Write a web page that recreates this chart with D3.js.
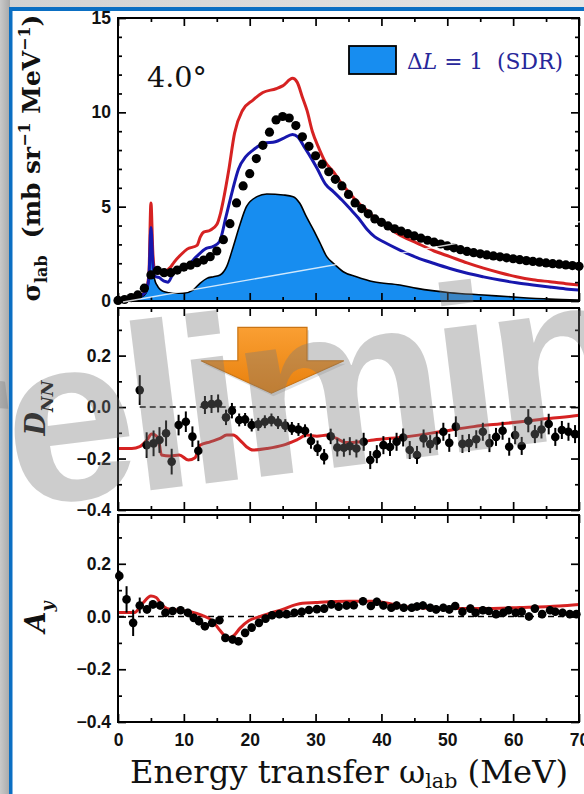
<!DOCTYPE html>
<html>
<head>
<meta charset="utf-8">
<script src="https://cdn.jsdelivr.net/npm/d3@7"></script>
<style>
  html, body { margin: 0; padding: 0; background: #fff; }
  svg { display: block; }
  text { white-space: pre; }
</style>
</head>
<body>
<svg id="chart" width="584" height="794"></svg>
<script>
// ---------- cross section, 4.0 deg ----------
const sigmaExpE = [0,1,2,3,4,5,6,7,8,9,10,11,12,13,14,15,16,17,18,19,20,21,22,23,24,25,26,27,28,29,30,31,32,33,34,35,36,37,38,39,40,41,42,43,44,45,46,47,48,49,50,51,52,53,54,55,56,57,58,59,60,61,62,63,64,65,66,67,68,69,70];
const sigmaExp  = [0.03,0.08,0.18,0.32,0.68,1.38,1.62,1.5,1.5,1.64,1.8,1.9,2.03,2.17,2.35,2.65,3.25,4.1,5.2,6.1,6.75,7.55,8.25,8.95,9.6,9.78,9.7,9.3,8.7,8.2,7.7,7.25,6.85,6.45,6.1,5.65,5.2,4.9,4.62,4.35,4.17,3.98,3.83,3.7,3.57,3.45,3.33,3.22,3.12,3.02,2.92,2.82,2.72,2.63,2.56,2.5,2.44,2.39,2.34,2.29,2.24,2.19,2.14,2.1,2.06,2.02,1.98,1.95,1.91,1.88,1.84];

const sigmaRedE = [0,2,3.5,4.3,4.7,5.0,5.3,5.6,6,7,8,8.5,9.5,10.5,12,12.5,13,14,15,15.6,16,16.8,17.7,18.9,20.5,22,24,25,26.5,27.2,28,28.7,29.5,30.5,31.5,32.7,34,35.2,36.5,37.8,39,40.3,42.5,45.4,48,50.4,53,55.5,58,60.5,63,65.6,68,70];
const sigmaRed  = [0.05,0.12,0.3,0.6,1.5,5.2,2.5,1.6,1.5,1.55,1.8,2.05,2.44,2.75,2.95,3.4,3.65,3.75,4.05,4.7,5.35,6.9,8.9,10.1,10.65,11.05,11.25,11.4,11.8,11.6,10.8,10.1,9.0,8.1,7.35,6.85,6.2,5.7,5.2,4.8,4.4,4.1,3.55,3.07,2.65,2.35,2.02,1.74,1.5,1.29,1.13,1.02,0.92,0.85];

const sigmaBlueE = [0,2,3.5,4.3,4.7,5.0,5.3,5.6,6.2,7,7.6,8.3,9,10.4,11.9,13.4,14.4,15.4,16.4,17.4,18.3,19.4,20.5,22.2,23.9,25.1,26.5,27.3,28.4,29.3,30.2,31.5,32.7,34,35.2,36.5,37.8,39,40.3,42.8,45.4,47.9,50.4,52.9,55.5,58,60.5,63,65.5,68,70];
const sigmaBlue  = [0.05,0.12,0.28,0.55,1.3,3.9,2.0,1.3,1.25,1.05,1.0,1.4,1.64,1.82,2.35,2.79,2.88,3.14,4.47,5.88,7.0,7.65,8.0,8.36,8.44,8.62,8.83,8.7,8.1,7.6,7.05,6.2,5.8,5.35,4.9,4.4,3.8,3.4,3.14,2.7,2.3,2.0,1.72,1.48,1.28,1.11,0.97,0.85,0.74,0.64,0.58];

const sdrE = [0,2,3.5,4.3,4.7,5.0,5.3,5.6,5.9,6.9,8.4,9.9,11.4,12.45,13.5,14.5,15.5,16.5,17.5,18.5,19.5,21.1,22.6,25.1,26.6,27.6,28.6,29.7,30.7,31.7,32.7,34.2,36.2,38.8,42.8,45.4,50.4,55.5,60.5,65.6,70];
const sdrV = [0.03,0.08,0.2,0.45,1.2,3.7,1.8,1.1,0.85,0.5,0.41,0.41,0.58,0.94,1.2,1.29,1.38,1.82,2.88,4.03,5.0,5.53,5.67,5.62,5.53,5.18,4.47,3.76,3.06,2.35,2.0,1.55,1.29,1.02,0.85,0.67,0.44,0.32,0.2,0.1,0.05];

// ---------- D_NN ----------
const dnnE = [3.3,4.35,5.4,6.3,7.3,8.15,9.2,10.3,11.3,12.2,13.2,14.2,15.2,16.4,17.3,18.4,19.3,20.3,21.3,22.3,23.3,24.3,25.4,26.4,27.4,28.4,29.3,30.3,31.3,32.3,33.3,34.3,35.2,36.2,37.3,38.3,39.3,40.3,41.3,42.3,43.3,44.3,45.4,46.4,47.4,48.4,49.4,50.3,51.3,52.3,53.3,54.4,55.4,56.4,57.4,58.4,59.4,60.3,61.3,62.3,63.3,64.3,65.4,66.4,67.4,68.4,69.4];
const dnnV = [0.066,-0.148,-0.141,-0.128,-0.102,-0.212,-0.07,-0.057,-0.115,-0.17,0.008,0.012,0.014,-0.04,-0.014,-0.05,-0.048,-0.07,-0.067,-0.057,-0.05,-0.06,-0.072,-0.083,-0.087,-0.092,-0.132,-0.16,-0.193,-0.114,-0.157,-0.158,-0.152,-0.161,-0.135,-0.206,-0.183,-0.148,-0.155,-0.135,-0.118,-0.167,-0.186,-0.122,-0.144,-0.131,-0.096,-0.139,-0.076,-0.143,-0.14,-0.125,-0.096,-0.14,-0.116,-0.092,-0.154,-0.109,-0.151,-0.053,-0.105,-0.087,-0.066,-0.116,-0.089,-0.096,-0.105];
const dnnErr = [0.058,0.05,0.05,0.05,0.05,0.05,0.04,0.04,0.04,0.04,0.035,0.035,0.035,0.03,0.03,0.025,0.025,0.025,0.025,0.025,0.025,0.025,0.025,0.025,0.025,0.025,0.03,0.03,0.03,0.03,0.035,0.035,0.035,0.035,0.035,0.035,0.035,0.035,0.035,0.035,0.035,0.035,0.035,0.035,0.035,0.035,0.035,0.035,0.04,0.035,0.035,0.035,0.035,0.035,0.035,0.035,0.035,0.035,0.035,0.045,0.035,0.035,0.04,0.035,0.035,0.035,0.035];
const dnnCalcE = [0,2.1,3.3,4.4,5.1,6.1,6.6,7.9,9.3,10.7,11.7,12.45,14,15.5,16.5,17.5,18.5,19.5,20.5,22.6,25.1,27.1,28.7,30.2,31.8,33.2,34.6,36.5,38.8,43.8,48.9,54,59,64.1,69.1,70];
const dnnCalc  = [-0.161,-0.161,-0.154,-0.128,-0.105,-0.12,-0.186,-0.19,-0.186,-0.206,-0.197,-0.148,-0.135,-0.122,-0.109,-0.109,-0.128,-0.154,-0.167,-0.161,-0.148,-0.128,-0.109,-0.113,-0.109,-0.122,-0.138,-0.136,-0.128,-0.115,-0.096,-0.076,-0.063,-0.048,-0.035,-0.032];

// ---------- A_y ----------
const ayE = [0.2,1.3,2.3,3.3,4.4,5.3,6.4,7.2,8.3,9.5,10.6,11.5,12.3,13.2,14.3,15.4,16.3,17.4,18.3,19.3,20.3,21.4,22.4,23.4,24.5,25.6,26.8,27.9,29.0,30.2,31.3,32.4,33.5,34.7,35.8,37.2,38.4,39.3,40.3,41.5,42.3,43.4,44.6,45.4,46.3,47.4,48.3,49.4,50.3,51.2,52.3,53.5,54.3,55.4,56.3,57.4,58.5,59.3,60.4,61.3,62.4,63.3,64.4,65.6,66.4,67.5,68.6,69.6];
const ayV = [0.154,0.065,-0.024,0.042,0.027,0.046,0.042,0.014,0.021,0.024,0.014,-0.005,-0.018,-0.037,-0.024,-0.014,-0.081,-0.087,-0.094,-0.062,-0.042,-0.024,-0.008,0.005,0.009,0.009,0.014,0.018,0.025,0.028,0.03,0.046,0.037,0.042,0.043,0.058,0.04,0.056,0.042,0.033,0.042,0.033,0.033,0.038,0.042,0.033,0.027,0.033,0.027,0.04,0.018,0.03,0.014,0.024,0.021,0.009,0.014,0.024,0.014,0.018,0.0,0.03,0.009,0.024,0.018,0.014,0.009,0.009];
const ayErr = [0.02,0.05,0.05,0.03,0.015,0.015,0.015,0.015,0.015,0.015,0.015,0.015,0.015,0.015,0.015,0.015,0.015,0.015,0.015,0.015,0.015,0.015,0.015,0.015,0.015,0.015,0.015,0.015,0.015,0.015,0.015,0.015,0.015,0.015,0.015,0.015,0.015,0.015,0.015,0.015,0.015,0.015,0.015,0.015,0.015,0.015,0.015,0.015,0.015,0.015,0.015,0.015,0.015,0.015,0.015,0.015,0.015,0.015,0.015,0.015,0.015,0.015,0.015,0.015,0.015,0.015,0.015,0.015];
const ayCalcE = [0,2.5,3.8,5.0,5.8,6.6,7.5,9,11,12.7,14.4,15.4,16.3,17,17.6,18.5,19.9,21.6,23,25,27,28,30,35,38.6,41.5,44,50,55,61,67,70];
const ayCalc  = [0.015,0.015,0.052,0.078,0.072,0.045,0.03,0.025,0.018,0.005,-0.018,-0.05,-0.075,-0.08,-0.072,-0.045,-0.015,0.0,0.012,0.027,0.045,0.05,0.053,0.058,0.058,0.048,0.036,0.03,0.03,0.034,0.04,0.046];

// ---------- ticks ----------
const xMajor = [0,10,20,30,40,50,60,70];
const xMinor = [5,15,25,35,45,55,65];
const sigMajor = [0,5,10,15];
const sigMinor = [1,2,3,4,6,7,8,9,11,12,13,14];
const polMajor = [-0.4,-0.2,0.0,0.2];
const polMinor = [-0.3,-0.1,0.1,0.3];

// ---------- colours ----------
const RED = '#d62222', BLUE = '#1717ad', SDR = '#178df0', LEGEND_TXT = '#27279a';

const W = 584, H = 794;
const svg = d3.select('#chart');
const defs = svg.append('defs');

// page backdrop
const lg = defs.append('linearGradient').attr('id', 'leftStrip').attr('x1', 0).attr('x2', 1).attr('y1', 0).attr('y2', 0);
lg.append('stop').attr('offset', 0).attr('stop-color', '#c9c9c9');
lg.append('stop').attr('offset', 1).attr('stop-color', '#a9a9a9');
const tg = defs.append('linearGradient').attr('id', 'topStrip').attr('x1', 0).attr('x2', 1).attr('y1', 0).attr('y2', 0);
tg.append('stop').attr('offset', 0).attr('stop-color', '#d2d2d2');
tg.append('stop').attr('offset', 1).attr('stop-color', '#e6e6e6');

svg.append('rect').attr('width', W).attr('height', H).attr('fill', 'url(#topStrip)');
svg.append('rect').attr('x', 0).attr('y', 0).attr('width', 10).attr('height', H).attr('fill', 'url(#leftStrip)');
svg.append('rect').attr('x', 12).attr('y', 11).attr('width', W - 12).attr('height', H - 11).attr('fill', '#fff');
svg.append('rect').attr('x', 9).attr('y', 7).attr('width', W - 9).attr('height', 4).attr('fill', '#0b6fc3');
svg.append('rect').attr('x', 9).attr('y', 7).attr('width', 3.5).attr('height', H - 7).attr('fill', '#0b6fc3');

// ---------- scales ----------
const x = d3.scaleLinear().domain([0, 70]).range([118, 579]);
const ySig = d3.scaleLinear().domain([0, 15]).range([301, 18]);
const yDnn = d3.scaleLinear().domain([-0.4, 0.385]).range([510, 308]);
const yAy  = d3.scaleLinear().domain([-0.4, 0.385]).range([722, 515]);

const TICK_FONT = "'Liberation Sans', Arial, sans-serif";
const SERIF = "'DejaVu Serif', serif";

function clipFor(id, y) {
  const [b, t] = y.range();
  defs.append('clipPath').attr('id', id).append('rect')
    .attr('x', x.range()[0]).attr('y', t).attr('width', x.range()[1] - x.range()[0]).attr('height', b - t);
  return `url(#${id})`;
}

function frame(g, y, yMajor, yMinor, yFmt, xLabels) {
  const [b, t] = y.range();
  const [l, r] = x.range();
  const add = (axis, tf) => {
    const a = g.append('g').attr('transform', tf).call(axis);
    a.select('.domain').remove();
    a.selectAll('.tick line').attr('stroke', '#000').attr('stroke-width', 1.7);
    a.selectAll('.tick text').attr('fill', '#111').attr('font-family', TICK_FONT)
      .attr('font-size', 17.5).attr('font-weight', 'bold');
    return a;
  };
  add(d3.axisLeft(y).tickValues(yMinor).tickSize(-4).tickFormat(''), `translate(${l},0)`);
  add(d3.axisLeft(y).tickValues(yMajor).tickSize(-8).tickPadding(7).tickFormat(yFmt), `translate(${l},0)`);
  add(d3.axisRight(y).tickValues(yMinor).tickSize(-4).tickFormat(''), `translate(${r},0)`);
  add(d3.axisRight(y).tickValues(yMajor).tickSize(-8).tickFormat(''), `translate(${r},0)`);
  add(d3.axisTop(x).tickValues(xMinor).tickSize(-4).tickFormat(''), `translate(0,${t})`);
  add(d3.axisTop(x).tickValues(xMajor).tickSize(-8).tickFormat(''), `translate(0,${t})`);
  add(d3.axisBottom(x).tickValues(xMinor).tickSize(-4).tickFormat(''), `translate(0,${b})`);
  add(d3.axisBottom(x).tickValues(xMajor).tickSize(-8).tickPadding(12)
    .tickFormat(xLabels ? d3.format('d') : ''), `translate(0,${b})`);
  g.append('rect').attr('x', l).attr('y', t).attr('width', r - l).attr('height', b - t)
    .attr('fill', 'none').attr('stroke', '#000').attr('stroke-width', 2);
}

// rich text with sub/superscripts built from parts
function richText(parent, parts, F, attrs, subShift = 0.3) {
  const txt = parent.append('text');
  Object.entries(attrs).forEach(([k, v]) => txt.attr(k, v));
  txt.attr('font-size', F);
  let shift = 0;
  parts.forEach(p => {
    const size = (p.sub || p.sup) ? F * 0.64 : F;
    const target = p.sub ? F * subShift : p.sup ? -F * 0.42 : 0;
    const ts = txt.append('tspan').text(p.t).attr('font-size', size).attr('dy', target - shift);
    shift = target;
    if (p.italic) ts.attr('font-style', 'italic');
  });
  return txt;
}
function fittedText(parent, parts, F, attrs, width, subShift) {
  const probe = richText(parent, parts, F, attrs, subShift);
  const len = probe.node().getComputedTextLength();
  probe.remove();
  return richText(parent, parts, F * width / len, attrs, subShift);
}

const line = (y) => d3.line().x(d => x(d[0])).y(d => y(d[1])).curve(d3.curveMonotoneX);
const zip = (a, b) => a.map((v, i) => [v, b[i]]);

// ================= top panel: cross section =================
const gTop = svg.append('g');
const gTopData = gTop.append('g').attr('clip-path', clipFor('clipTop', ySig));

gTopData.append('path')
  .datum(zip(sdrE, sdrV))
  .attr('d', d3.area().x(d => x(d[0])).y0(ySig(0)).y1(d => ySig(d[1])).curve(d3.curveMonotoneX))
  .attr('fill', SDR);
gTopData.append('path')
  .datum(zip(sdrE, sdrV))
  .attr('d', line(ySig))
  .attr('fill', 'none').attr('stroke', '#000').attr('stroke-width', 1.6);
gTopData.append('path').datum(zip(sigmaRedE, sigmaRed)).attr('d', line(ySig))
  .attr('fill', 'none').attr('stroke', RED).attr('stroke-width', 3).attr('stroke-linejoin', 'round');
gTopData.append('path').datum(zip(sigmaBlueE, sigmaBlue)).attr('d', line(ySig))
  .attr('fill', 'none').attr('stroke', BLUE).attr('stroke-width', 3).attr('stroke-linejoin', 'round');

gTop.append('g').selectAll('circle').data(zip(sigmaExpE, sigmaExp)).join('circle')
  .attr('cx', d => x(d[0])).attr('cy', d => ySig(d[1])).attr('r', 4.6).attr('fill', '#000');

frame(gTop, ySig, sigMajor, sigMinor, d3.format('d'), false);

// angle label and legend
fittedText(gTop, [{ t: '4.0°' }], 28, { x: 147, y: 87, 'font-family': SERIF, fill: '#111' }, 60);
gTop.append('rect').attr('x', 349).attr('y', 46).attr('width', 47).attr('height', 28)
  .attr('fill', SDR).attr('stroke', '#000').attr('stroke-width', 1.8);
fittedText(gTop, [{ t: 'Δ' }, { t: 'L', italic: true }, { t: ' = 1  (SDR)' }], 24,
  { x: 407, y: 69, 'font-family': SERIF, fill: LEGEND_TXT }, 156);

// ================= middle panel: D_NN =================
const gMid = svg.append('g');
const gMidData = gMid.append('g').attr('clip-path', clipFor('clipMid', yDnn));
gMidData.append('line')
  .attr('x1', x(dnnE[0])).attr('x2', x(70)).attr('y1', yDnn(0)).attr('y2', yDnn(0))
  .attr('stroke', '#000').attr('stroke-width', 1.6).attr('stroke-dasharray', '6,4');
gMidData.append('path').datum(zip(dnnCalcE, dnnCalc)).attr('d', line(yDnn))
  .attr('fill', 'none').attr('stroke', RED).attr('stroke-width', 3).attr('stroke-linejoin', 'round');
const dnn = dnnE.map((e, i) => ({ e, v: dnnV[i], s: dnnErr[i] }));
gMid.append('g').selectAll('line').data(dnn).join('line')
  .attr('x1', d => x(d.e)).attr('x2', d => x(d.e))
  .attr('y1', d => yDnn(d.v - d.s)).attr('y2', d => yDnn(d.v + d.s))
  .attr('stroke', '#000').attr('stroke-width', 2);
gMid.append('g').selectAll('circle').data(dnn).join('circle')
  .attr('cx', d => x(d.e)).attr('cy', d => yDnn(d.v)).attr('r', 4.3).attr('fill', '#000');
frame(gMid, yDnn, polMajor, polMinor, d3.format('.1f'), false);

// ================= bottom panel: A_y =================
const gBot = svg.append('g');
const gBotData = gBot.append('g').attr('clip-path', clipFor('clipBot', yAy));
gBotData.append('line')
  .attr('x1', x(0)).attr('x2', x(70)).attr('y1', yAy(0)).attr('y2', yAy(0))
  .attr('stroke', '#000').attr('stroke-width', 1.6).attr('stroke-dasharray', '6,4');
gBotData.append('path').datum(zip(ayCalcE, ayCalc)).attr('d', line(yAy))
  .attr('fill', 'none').attr('stroke', RED).attr('stroke-width', 3).attr('stroke-linejoin', 'round');
const ay = ayE.map((e, i) => ({ e, v: ayV[i], s: ayErr[i] }));
gBot.append('g').selectAll('line').data(ay).join('line')
  .attr('x1', d => x(d.e)).attr('x2', d => x(d.e))
  .attr('y1', d => yAy(d.v - d.s)).attr('y2', d => yAy(d.v + d.s))
  .attr('stroke', '#000').attr('stroke-width', 2);
gBot.append('g').selectAll('circle').data(ay).join('circle')
  .attr('cx', d => x(d.e)).attr('cy', d => yAy(d.v)).attr('r', 4.3).attr('fill', '#000');
frame(gBot, yAy, polMajor, polMinor, d3.format('.1f'), true);

// ================= axis titles =================
const labelAttrs = (cx, cy) => ({
  x: 0, y: 0, transform: `translate(${cx},${cy}) rotate(-90)`, 'text-anchor': 'middle',
  'font-family': SERIF, 'font-weight': 'bold', fill: '#111'
});
fittedText(svg, [{ t: 'σ' }, { t: 'lab', sub: true }, { t: '  (mb sr' }, { t: '−1', sup: true },
  { t: ' MeV' }, { t: '−1', sup: true }, { t: ')' }], 24, labelAttrs(40, 158), 287);
richText(svg, [{ t: 'D', italic: true }, { t: 'NN', sub: true, italic: true }], 27, labelAttrs(45, 408));
richText(svg, [{ t: 'A', italic: true }, { t: 'y', sub: true, italic: true }], 27, labelAttrs(45, 617));
fittedText(svg, [{ t: 'Energy transfer ω' }, { t: 'lab', sub: true }, { t: ' (MeV)' }], 28,
  { x: 130, y: 783, 'font-family': SERIF, fill: '#111' }, 438, 0.17);

// ================= annotations =================
// faint light rule across the top panel
svg.append('line').attr('x1', 123).attr('y1', 302).attr('x2', 584).attr('y2', 221)
  .attr('stroke', '#ffffff').attr('stroke-opacity', 0.8).attr('stroke-width', 1.4);

// orange down arrow in the D_NN panel (data units)
const arrowPts = [[18.2, 0.31], [28.7, 0.31], [28.7, 0.18], [34.3, 0.18], [23.3, 0.054], [12.6, 0.18], [18.2, 0.18]];
const ag = defs.append('linearGradient').attr('id', 'arrowFill').attr('x1', 0).attr('x2', 0).attr('y1', 0).attr('y2', 1);
ag.append('stop').attr('offset', 0).attr('stop-color', '#fa9f33');
ag.append('stop').attr('offset', 1).attr('stop-color', '#e8800c');
svg.append('polygon')
  .attr('points', arrowPts.map(p => [x(p[0]) + 2, yDnn(p[1]) + 3].join(',')).join(' '))
  .attr('fill', '#000').attr('opacity', 0.12);
svg.append('polygon')
  .attr('points', arrowPts.map(p => [x(p[0]), yDnn(p[1])].join(',')).join(' '))
  .attr('fill', 'url(#arrowFill)').attr('stroke', '#c97414').attr('stroke-width', 1.2);

// watermark
const wm = svg.append('text').text('Preliminary')
  .attr('font-family', TICK_FONT).attr('font-weight', 'bold').attr('font-size', 236)
  .attr('letter-spacing', -10).attr('fill', '#7a7a7a').attr('opacity', 0.37);
const ex = 14, ey = 507;
const pre = wm.node().getSubStringLength(0, 2);
wm.attr('x', ex - pre).attr('y', ey).attr('transform', `rotate(-7,${ex},${ey})`);
</script>
</body>
</html>
